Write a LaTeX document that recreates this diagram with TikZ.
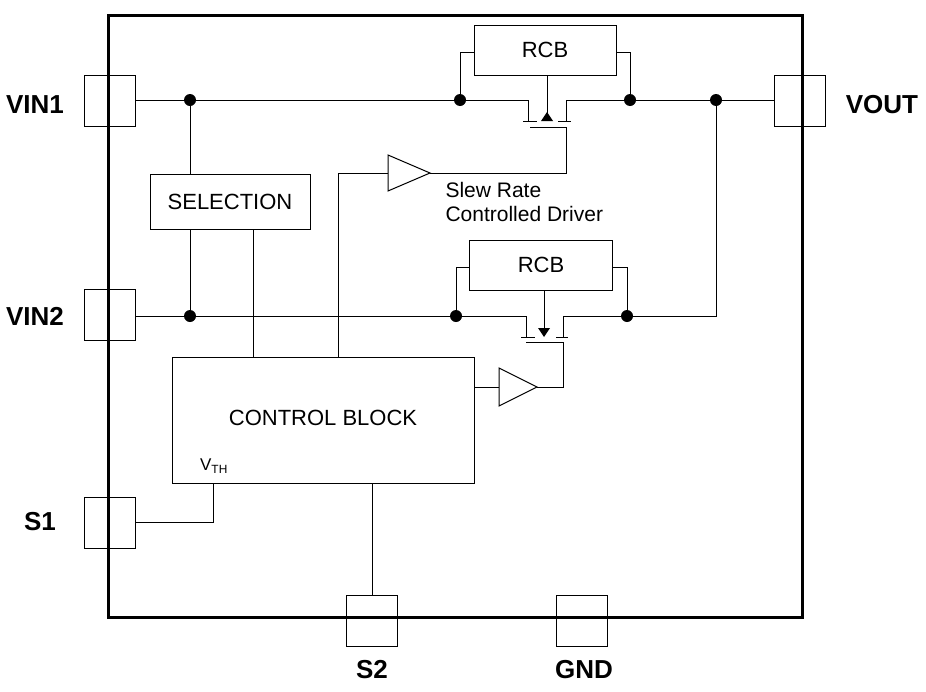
\documentclass[tikz,border=0pt]{standalone}
\usepackage{fontspec}
\setmainfont{Liberation Sans}
\usetikzlibrary{arrows.meta}
\tikzset{
  pin/.style={draw,line width=1pt,minimum size=51pt,inner sep=0pt},
  pinlabel/.style={font=\bfseries\fontsize{26}{30}\selectfont},
  blk/.style={draw,line width=1pt,inner sep=0pt,font=\fontsize{22}{26}\selectfont},
  dot/.style={circle,fill,inner sep=0pt,minimum size=12pt},
  wire/.style={line width=1pt},
  amp/.style={draw,line width=1pt},
}
\begin{document}
\begin{tikzpicture}[x=1pt,y=-1pt]
    \useasboundingbox (0,0) rectangle (926,691);

    % package outline
    \draw[line width=3pt] (108,15) rectangle (802,617);

    % pins
    \node[pin] (vina) at (110,101) {};
    \node[pinlabel] at (35,105) {VIN1};
    \node[pin] (vinb) at (110,315) {};
    \node[pinlabel] at (35,316) {VIN2};
    \node[pin] (sa) at (110,523) {};
    \node[pinlabel] at (40,522) {S1};
    \node[pin] (vout) at (800,101) {};
    \node[pinlabel] at (882,105) {VOUT};
    \node[pin] (sb) at (372,621) {};
    \node[pinlabel] at (372,670) {S2};
    \node[pin] (gnd) at (582,621) {};
    \node[pinlabel] at (584,670) {GND};

    % blocks
    \node[blk,minimum width=142pt,minimum height=50pt] (rcba) at (545,50) {RCB};
    \node[blk,minimum width=143pt,minimum height=50pt] (rcbb) at (541,265) {RCB};
    \node[blk,minimum width=160pt,minimum height=55pt] (sel) at (230,202) {SELECTION};
    \node[blk,minimum width=302pt,minimum height=126pt] (ctrl) at (323,420) {};
    \node[font=\fontsize{22}{26}\selectfont] at (323,418) {CONTROL BLOCK};
    \node[font=\fontsize{17}{20}\selectfont] (vth) at (214,466) {V\textsubscript{TH}};
    \node[font=\fontsize{21}{25}\selectfont,anchor=west,align=left] at (442,202) {Slew Rate\\[-1pt]Controlled Driver};

    % junctions
    \node[dot] (ja) at (190,100) {};
    \node[dot] (jb) at (460,100) {};
    \node[dot] (jc) at (630,100) {};
    \node[dot] (jd) at (716,100) {};
    \node[dot] (je) at (190,316) {};
    \node[dot] (jf) at (456,316) {};
    \node[dot] (jg) at (627,316) {};
    \coordinate (jh) at (716,316);

    % upper switch
    \draw[wire] (vina.east |- ja) -- (ja) -- (jb) -- (528,100) -- (528,121);
    \draw[wire] (jc) -- (566,100) -- (566,121);
    \draw[wire] (jc) -- (jd) -- (vout.west |- jd);
    \draw[wire] (jb) -- (460,52) -- (rcba.west |- 0,52);
    \draw[wire] (rcba.east |- 0,52) -- (630,52) -- (jc);
    \draw[wire] (523,121) -- (537,121) (558,121) -- (571,121);
    \draw[wire] (530,127) -- (566,127) -- (566,173) -- (430,173);
    \draw[wire] (rcba.south -| 547,0) -- (547,120);
    \fill (541,121) -- (553,121) -- (547,112) -- cycle;

    % upper driver
    \draw[amp] (388,155) -- (430,173) -- (388,191) -- cycle;
    \draw[wire] (388,173) -- (338,173) -- (ctrl.north -| 338,0);

    % lower switch
    \draw[wire] (vinb.east |- je) -- (je) -- (jf) -- (526,316) -- (526,337);
    \draw[wire] (jg) -- (563,316) -- (563,337);
    \draw[wire] (jg) -- (jh) -- (jd);
    \draw[wire] (jf) -- (456,267) -- (rcbb.west |- 0,267);
    \draw[wire] (rcbb.east |- 0,267) -- (627,267) -- (jg);
    \draw[wire] (521,337) -- (535,337) (556,337) -- (568,337);
    \draw[wire] (526,342) -- (563,342) -- (563,387) -- (537,387);
    \draw[wire] (rcbb.south -| 544,0) -- (544,330);
    \fill (538,328) -- (550,328) -- (544,337) -- cycle;

    % lower driver
    \draw[amp] (499,368) -- (537,387) -- (499,406) -- cycle;
    \draw[wire] (ctrl.east |- 0,387) -- (499,387);

    % selection and control wiring
    \draw[wire] (ja) -- (sel.north -| ja);
    \draw[wire] (sel.south -| je) -- (je);
    \draw[wire] (sel.south -| 253,0) -- (ctrl.north -| 253,0);
    \draw[wire] (sa.east |- 0,522) -- (213,522) -- (ctrl.south -| 213,0);
    \draw[wire] (ctrl.south -| sb) -- (sb.north);
\end{tikzpicture}
\end{document}
